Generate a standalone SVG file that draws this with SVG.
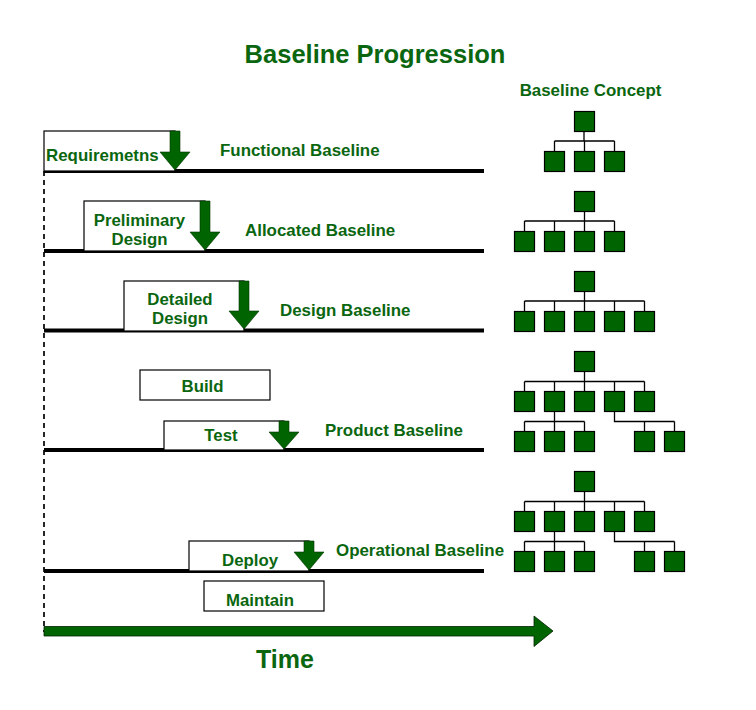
<svg xmlns="http://www.w3.org/2000/svg" width="756" height="710" viewBox="0 0 756 710">
<style>
.t{font-family:"Liberation Sans",Arial,sans-serif;font-weight:bold;fill:#0b6610;text-anchor:middle}
.l{font-family:"Liberation Sans",Arial,sans-serif;font-weight:bold;fill:#0b6610;font-size:16.9px}
.bx{fill:#fff;stroke:#000;stroke-width:1.2}
.arr{fill:#006400;stroke:#003300;stroke-width:0.6}
.base{stroke:#000;stroke-width:4;fill:none}
.n{fill:#006400;stroke:#000;stroke-width:1.2}
.c{stroke:#000;stroke-width:1.3;fill:none}
</style>
<rect width="756" height="710" fill="#fff"/>
<text class="t" x="375" y="63" font-size="25.5px">Baseline Progression</text>
<text class="t" x="590.5" y="96" font-size="16.9px">Baseline Concept</text>

<g id="connectors">
  <line x1="44" y1="171" x2="44" y2="632" stroke="#000" stroke-width="1.7" stroke-dasharray="5,4"/>
  <line class="base" x1="44" y1="171" x2="484" y2="171"/>
  <line class="base" x1="44" y1="251" x2="484" y2="251"/>
  <line class="base" x1="44" y1="330.5" x2="484" y2="330.5"/>
  <line class="base" x1="44" y1="450" x2="484" y2="450"/>
  <line class="base" x1="44" y1="571" x2="484" y2="571"/>
</g>

<g id="requirements">
  <rect class="bx" x="44" y="131" width="131" height="40"/>
  <text class="l" x="46" y="160.5" font-size="16.7px">Requiremetns</text>
  <path class="arr" d="M170,131 H180 V152 H190 L175,170 L160,152 H170 Z"/>
</g>
<text id="functional-baseline" class="l" x="220" y="156">Functional Baseline</text>

<g id="preliminary-design">
  <rect class="bx" x="84" y="201" width="121" height="50"/>
  <text class="t" x="139.5" y="226" font-size="16.8px">Preliminary</text>
  <text class="t" x="139.5" y="245" font-size="16.8px">Design</text>
  <path class="arr" d="M200,201 H210 V232 H220 L205,250 L190,232 H200 Z"/>
</g>
<text id="allocated-baseline" class="l" x="245" y="236">Allocated Baseline</text>

<g id="detailed-design">
  <rect class="bx" x="124" y="281" width="120" height="50"/>
  <text class="t" x="180" y="305" font-size="16.8px">Detailed</text>
  <text class="t" x="180" y="324" font-size="16.8px">Design</text>
  <path class="arr" d="M239,281 H249 V311 H259 L244,329 L229,311 H239 Z"/>
</g>
<text id="design-baseline" class="l" x="280" y="316">Design Baseline</text>

<g id="build">
  <rect class="bx" x="140" y="370" width="130" height="30"/>
  <text class="t" x="202.5" y="392" font-size="16.8px">Build</text>
</g>

<g id="test">
  <rect class="bx" x="164" y="421" width="120" height="29"/>
  <text class="t" x="221" y="441" font-size="16.8px">Test</text>
  <path class="arr" d="M279,421 H289 V432 H299 L284,449 L269,432 H279 Z"/>
</g>
<text id="product-baseline" class="l" x="325" y="436">Product Baseline</text>

<g id="deploy">
  <rect class="bx" x="189" y="541" width="120" height="30"/>
  <text class="t" x="250" y="566" font-size="16.8px">Deploy</text>
  <path class="arr" d="M304,541 H314 V552 H324 L309,570 L294,552 H304 Z"/>
</g>
<text id="operational-baseline" class="l" x="336" y="556">Operational Baseline</text>

<g id="maintain">
  <rect class="bx" x="204" y="581" width="120" height="30"/>
  <text class="t" x="260" y="606" font-size="16.8px">Maintain</text>
</g>

<g id="time">
  <path fill="#006400" stroke="#002200" stroke-width="0.8" d="M44,626.5 H534 V616 L553,631 L534,646.5 V636 H44 Z"/>
  <text class="t" x="285" y="668" font-size="25px">Time</text>
</g>

<g id="tree-functional">
  <path class="c" d="M584,131 V141 M554.5,141 H614.5 M554.5,141 V152 M584.5,141 V152 M614.5,141 V152" stroke="#6a9a6a"/>
  <rect class="n" x="574.5" y="111.5" width="20" height="20"/>
  <rect class="n" x="544.5" y="151.5" width="20" height="20"/>
  <rect class="n" x="574.5" y="151.5" width="20" height="20"/>
  <rect class="n" x="604.5" y="151.5" width="20" height="20"/>
</g>

<g id="tree-allocated">
  <path class="c" d="M584.5,211 V221 M524.5,221 H614.5 M524.5,221 V232 M554.5,221 V232 M584.5,221 V232 M614.5,221 V232"/>
  <rect class="n" x="574.5" y="191.5" width="20" height="20"/>
  <rect class="n" x="514.5" y="231.5" width="20" height="20"/>
  <rect class="n" x="544.5" y="231.5" width="20" height="20"/>
  <rect class="n" x="574.5" y="231.5" width="20" height="20"/>
  <rect class="n" x="604.5" y="231.5" width="20" height="20"/>
</g>

<g id="tree-design">
  <path class="c" d="M584.5,291 V301 M524.5,301 H644.5 M524.5,301 V312 M554.5,301 V312 M584.5,301 V312 M614.5,301 V312 M644.5,301 V312"/>
  <rect class="n" x="574.5" y="271.5" width="20" height="20"/>
  <rect class="n" x="514.5" y="311.5" width="20" height="20"/>
  <rect class="n" x="544.5" y="311.5" width="20" height="20"/>
  <rect class="n" x="574.5" y="311.5" width="20" height="20"/>
  <rect class="n" x="604.5" y="311.5" width="20" height="20"/>
  <rect class="n" x="634.5" y="311.5" width="20" height="20"/>
</g>

<g id="tree-product">
  <path class="c" d="M584.5,371 V381.5 M524.5,381.5 H644.5 M524.5,381.5 V392 M554.5,381.5 V392 M584.5,381.5 V392 M614.5,381.5 V392 M644.5,381.5 V392 M554.5,411 V421.5 M524.5,421.5 H584.5 M524.5,421.5 V432 M554.5,421.5 V432 M584.5,421.5 V432 M614.5,411 V421.5 H674.5 M644.5,421.5 V432 M674.5,421.5 V432"/>
  <rect class="n" x="574.5" y="351.5" width="20" height="20"/>
  <rect class="n" x="514.5" y="391.5" width="20" height="20"/>
  <rect class="n" x="544.5" y="391.5" width="20" height="20"/>
  <rect class="n" x="574.5" y="391.5" width="20" height="20"/>
  <rect class="n" x="604.5" y="391.5" width="20" height="20"/>
  <rect class="n" x="634.5" y="391.5" width="20" height="20"/>
  <rect class="n" x="514.5" y="431.5" width="20" height="20"/>
  <rect class="n" x="544.5" y="431.5" width="20" height="20"/>
  <rect class="n" x="574.5" y="431.5" width="20" height="20"/>
  <rect class="n" x="634.5" y="431.5" width="20" height="20"/>
  <rect class="n" x="664.5" y="431.5" width="20" height="20"/>
</g>

<g id="tree-operational">
  <path class="c" d="M584.5,491 V501.5 M524.5,501.5 H644.5 M524.5,501.5 V512 M554.5,501.5 V512 M584.5,501.5 V512 M614.5,501.5 V512 M644.5,501.5 V512 M554.5,531 V541.5 M524.5,541.5 H584.5 M524.5,541.5 V552 M554.5,541.5 V552 M584.5,541.5 V552 M614.5,531 V541.5 H674.5 M644.5,541.5 V552 M674.5,541.5 V552"/>
  <rect class="n" x="574.5" y="471.5" width="20" height="20"/>
  <rect class="n" x="514.5" y="511.5" width="20" height="20"/>
  <rect class="n" x="544.5" y="511.5" width="20" height="20"/>
  <rect class="n" x="574.5" y="511.5" width="20" height="20"/>
  <rect class="n" x="604.5" y="511.5" width="20" height="20"/>
  <rect class="n" x="634.5" y="511.5" width="20" height="20"/>
  <rect class="n" x="514.5" y="551.5" width="20" height="20"/>
  <rect class="n" x="544.5" y="551.5" width="20" height="20"/>
  <rect class="n" x="574.5" y="551.5" width="20" height="20"/>
  <rect class="n" x="634.5" y="551.5" width="20" height="20"/>
  <rect class="n" x="664.5" y="551.5" width="20" height="20"/>
</g>
</svg>
